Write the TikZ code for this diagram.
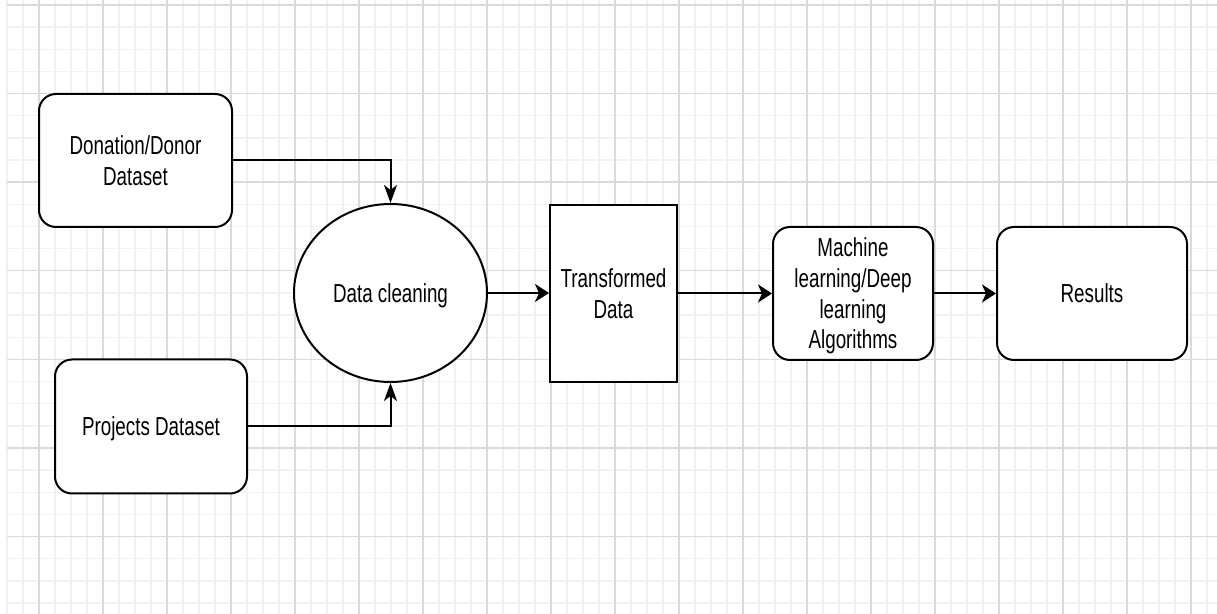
\documentclass[tikz,border=0pt]{standalone}
\usepackage{graphicx}
\usepackage{fontspec}
\setmainfont{Liberation Sans}
\usetikzlibrary{arrows.meta,shapes.geometric}
\newcommand{\sttext}[2]{{\fontsize{9.4}{11.05}\selectfont\scalebox{1}[1.386]{\raisebox{0pt}[\dimexpr 11.05pt*#1 - 11.05pt + 6.73pt\relax][0pt]{\begin{tabular}[b]{@{}c@{}}#2\end{tabular}}}}}
\definecolor{gridminor}{HTML}{F1F1F1}
\definecolor{gridmajor}{HTML}{DADADA}
\tikzset{
  box/.style={draw=black, line width=1pt, fill=white, rounded corners=8.5pt, inner sep=0pt, align=center},
  sqbox/.style={draw=black, line width=1pt, fill=white, inner sep=0pt, align=center},
  oval/.style={ellipse, draw=black, line width=1pt, fill=white, inner sep=0pt},
  harr/.style={line width=1pt, -{Stealth[length=7pt,width=9pt,inset=2pt]}},
  varr/.style={line width=1pt, -{Stealth[length=9pt,width=6.5pt,inset=2.5pt]}},
  minorline/.style={draw=gridminor, line width=0.7pt},
  majorline/.style={draw=gridmajor, line width=0.7pt}
}
\begin{document}
\begin{tikzpicture}[x=0.5pt, y=-0.5pt]
  \fill[white] (0,0) rectangle (1217,614);
  \useasboundingbox (0,0) rectangle (1217,614);
  % grid
  \foreach \k in {0,...,75} { \draw[minorline] ({7+16*\k},0) -- ({7+16*\k},614); }
  \foreach \k in {0,...,27} { \draw[minorline] (7,{5+22.15*\k}) -- (1217,{5+22.15*\k}); }
  \foreach \j in {0,...,18} { \draw[majorline] ({39+64*\j},0) -- ({39+64*\j},614); }
  \foreach \j in {0,...,6} { \draw[majorline] (7,{5+88.6*\j}) -- (1217,{5+88.6*\j}); }
  % nodes
  \node[box, minimum width=96.5pt, minimum height=66.5pt] (don) at (135.5,160.5) {\sttext{2}{Donation/Donor\\Dataset}};
  \node[box, minimum width=96pt, minimum height=67pt] (proj) at (151,426.5) {\sttext{1}{Projects Dataset}};
  \node[oval, minimum width=96.5pt, minimum height=89pt] (dc) at (390.5,293) {\sttext{1}{Data cleaning}};
  \node[sqbox, minimum width=63.5pt, minimum height=88.5pt] (td) at (613.5,293.5) {\sttext{2}{Transformed\\Data}};
  \node[box, minimum width=80pt, minimum height=66.5pt] (ml) at (853,293.5) {\sttext{4}{Machine\\learning/Deep\\learning\\Algorithms}};
  \node[box, minimum width=95pt, minimum height=66.5pt] (res) at (1092,293.5) {\sttext{1}{Results}};
  % connectors
  \draw[varr] (don.east) -| (dc.north);
  \draw[varr] (proj.east) -| (dc.south);
  \draw[harr] (dc.east) -- (dc.east -| td.west);
  \draw[harr] (td.east) -- (ml.west);
  \draw[harr] (ml.east) -- (res.west);
\end{tikzpicture}
\end{document}
